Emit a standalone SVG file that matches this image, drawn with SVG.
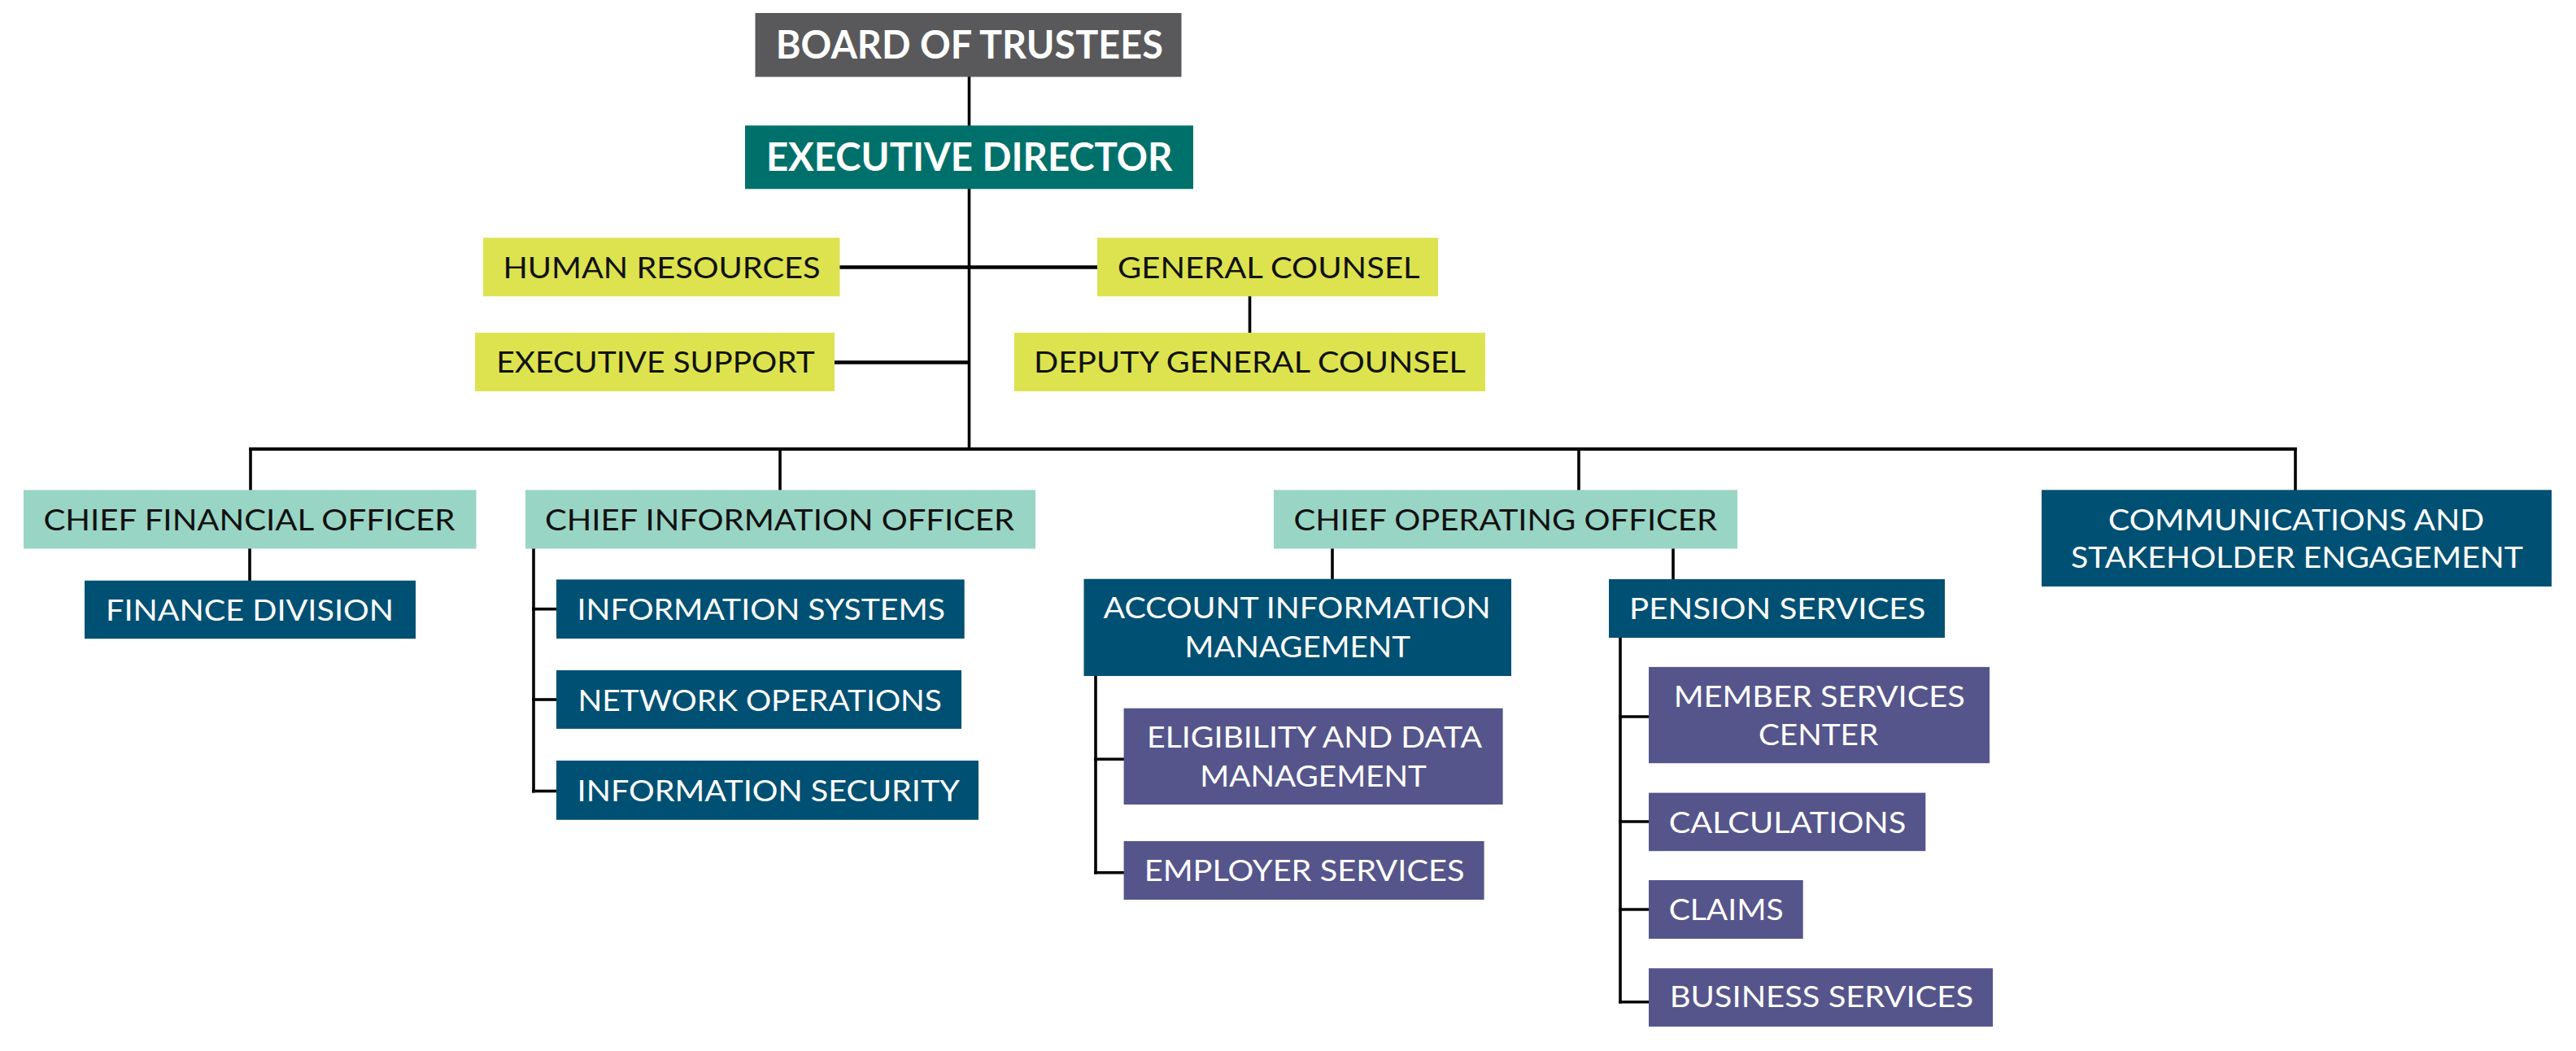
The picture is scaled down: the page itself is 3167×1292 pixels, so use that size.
<svg xmlns="http://www.w3.org/2000/svg" width="3167" height="1292" viewBox="0 0 3167 1292">
<style>
text{font-family:Lato,"Open Sans","Liberation Sans",sans-serif;font-size:37px;text-anchor:middle}
.t1{font-size:48px;font-weight:bold;fill:#fff}
.dk{fill:#fff}
.lt{fill:#111}
.board{fill:#59595b}
.exec{fill:#00706b}
.yel{fill:#dce34f}
.teal{fill:#99d5c4}
.blue{fill:#005073}
.purp{fill:#55558c}
.conn line{stroke:#000;stroke-width:3.6;stroke-linecap:butt}
</style>
<rect width="3167" height="1292" fill="#fff"/>
<g class="conn" id="connectors">
<line x1="1191.5" y1="94" x2="1191.5" y2="155"/>
<line x1="1191.5" y1="232" x2="1191.5" y2="554"/>
<line x1="1032" y1="328.5" x2="1349" y2="328.5" style="stroke-width:4.4"/>
<line x1="1026" y1="445.5" x2="1192" y2="445.5" style="stroke-width:4.4"/>
<line x1="1536.5" y1="364" x2="1536.5" y2="409.5"/>
<line x1="306.5" y1="552" x2="2823.5" y2="552" style="stroke-width:4"/>
<line x1="308" y1="550" x2="308" y2="603"/>
<line x1="959" y1="552" x2="959" y2="603"/>
<line x1="1941" y1="552" x2="1941" y2="603"/>
<line x1="2822" y1="550" x2="2822" y2="603"/>
<line x1="307" y1="674" x2="307" y2="714"/>
<line x1="656" y1="674" x2="656" y2="974.5"/>
<line x1="654" y1="748.7" x2="684" y2="748.7"/>
<line x1="654" y1="860" x2="684" y2="860"/>
<line x1="654" y1="972.5" x2="684" y2="972.5"/>
<line x1="1638" y1="674" x2="1638" y2="712"/>
<line x1="2057" y1="674" x2="2057" y2="712"/>
<line x1="1347" y1="831" x2="1347" y2="1074.5"/>
<line x1="1345" y1="933.3" x2="1382" y2="933.3"/>
<line x1="1345" y1="1072.7" x2="1382" y2="1072.7"/>
<line x1="1992" y1="784" x2="1992" y2="1233.6"/>
<line x1="1990" y1="881" x2="2027" y2="881"/>
<line x1="1990" y1="1010" x2="2027" y2="1010"/>
<line x1="1990" y1="1118" x2="2027" y2="1118"/>
<line x1="1990" y1="1231.8" x2="2027" y2="1231.8"/>
</g>
<g id="board"><rect class="board" x="928.5" y="16" width="524" height="78.5"/><text class="t1" x="1191.8" y="71.7" textLength="476" lengthAdjust="spacingAndGlyphs">BOARD OF TRUSTEES</text></g>
<g id="exec"><rect class="exec" x="916" y="154.3" width="551" height="78"/><text class="t1" x="1191.7" y="210" textLength="499.5" lengthAdjust="spacingAndGlyphs">EXECUTIVE DIRECTOR</text></g>
<g id="hr"><rect class="yel" x="594" y="292.3" width="438.5" height="72"/><text class="lt" x="813.5" y="341.7" textLength="390" lengthAdjust="spacingAndGlyphs">HUMAN RESOURCES</text></g>
<g id="gc"><rect class="yel" x="1349" y="292.3" width="419" height="72"/><text class="lt" x="1559.8" y="341.7" textLength="371.6" lengthAdjust="spacingAndGlyphs">GENERAL COUNSEL</text></g>
<g id="es"><rect class="yel" x="584" y="409" width="442" height="72"/><text class="lt" x="806" y="458.3" textLength="391.5" lengthAdjust="spacingAndGlyphs">EXECUTIVE SUPPORT</text></g>
<g id="dgc"><rect class="yel" x="1247" y="409" width="579" height="72"/><text class="lt" x="1536.5" y="458.3" textLength="531" lengthAdjust="spacingAndGlyphs">DEPUTY GENERAL COUNSEL</text></g>
<g id="cfo"><rect class="teal" x="29" y="602.3" width="556.5" height="72.2"/><text class="lt" x="306.5" y="651.7" textLength="506" lengthAdjust="spacingAndGlyphs">CHIEF FINANCIAL OFFICER</text></g>
<g id="cio"><rect class="teal" x="646" y="602.3" width="627" height="72.2"/><text class="lt" x="958.5" y="651.7" textLength="577" lengthAdjust="spacingAndGlyphs">CHIEF INFORMATION OFFICER</text></g>
<g id="coo"><rect class="teal" x="1566" y="602.3" width="570" height="72.2"/><text class="lt" x="1850.8" y="651.7" textLength="520.5" lengthAdjust="spacingAndGlyphs">CHIEF OPERATING OFFICER</text></g>
<g id="comms"><rect class="blue" x="2510" y="602.3" width="627" height="118.7"/><text class="dk" x="2823" y="651.7" textLength="462" lengthAdjust="spacingAndGlyphs">COMMUNICATIONS AND</text><text class="dk" x="2824" y="698" textLength="556" lengthAdjust="spacingAndGlyphs">STAKEHOLDER ENGAGEMENT</text></g>
<g id="finance"><rect class="blue" x="104" y="713.7" width="407" height="71.5"/><text class="dk" x="307" y="762.7" textLength="354" lengthAdjust="spacingAndGlyphs">FINANCE DIVISION</text></g>
<g id="infosys"><rect class="blue" x="684" y="712.4" width="501.7" height="72.6"/><text class="dk" x="935.8" y="761.8" textLength="452.4" lengthAdjust="spacingAndGlyphs">INFORMATION SYSTEMS</text></g>
<g id="netops"><rect class="blue" x="684" y="823.9" width="498" height="72"/><text class="dk" x="934.2" y="873.5" textLength="447.6" lengthAdjust="spacingAndGlyphs">NETWORK OPERATIONS</text></g>
<g id="infosec"><rect class="blue" x="684" y="935" width="519" height="72.8"/><text class="dk" x="944.8" y="985" textLength="470.4" lengthAdjust="spacingAndGlyphs">INFORMATION SECURITY</text></g>
<g id="aim"><rect class="blue" x="1332.5" y="711.7" width="525.5" height="119.3"/><text class="dk" x="1594.5" y="760" textLength="476" lengthAdjust="spacingAndGlyphs">ACCOUNT INFORMATION</text><text class="dk" x="1595.3" y="808.3" textLength="277.4" lengthAdjust="spacingAndGlyphs">MANAGEMENT</text></g>
<g id="pension"><rect class="blue" x="1978" y="712" width="413" height="72"/><text class="dk" x="2185.2" y="760.8" textLength="364.3" lengthAdjust="spacingAndGlyphs">PENSION SERVICES</text></g>
<g id="elig"><rect class="purp" x="1381.6" y="870.7" width="466" height="118.3"/><text class="dk" x="1616" y="919" textLength="412" lengthAdjust="spacingAndGlyphs">ELIGIBILITY AND DATA</text><text class="dk" x="1614.6" y="966.7" textLength="278.6" lengthAdjust="spacingAndGlyphs">MANAGEMENT</text></g>
<g id="employer"><rect class="purp" x="1381.6" y="1034" width="443" height="72"/><text class="dk" x="1603.6" y="1083" textLength="393.7" lengthAdjust="spacingAndGlyphs">EMPLOYER SERVICES</text></g>
<g id="member"><rect class="purp" x="2027" y="819.9" width="419" height="118.3"/><text class="dk" x="2236.7" y="869.4" textLength="358" lengthAdjust="spacingAndGlyphs">MEMBER SERVICES</text><text class="dk" x="2235.6" y="916" textLength="147.3" lengthAdjust="spacingAndGlyphs">CENTER</text></g>
<g id="calc"><rect class="purp" x="2027" y="974.6" width="340.3" height="71.6"/><text class="dk" x="2197.5" y="1023.8" textLength="291.6" lengthAdjust="spacingAndGlyphs">CALCULATIONS</text></g>
<g id="claims"><rect class="purp" x="2027" y="1082" width="189.7" height="72"/><text class="dk" x="2122.2" y="1131.3" textLength="141" lengthAdjust="spacingAndGlyphs">CLAIMS</text></g>
<g id="business"><rect class="purp" x="2027" y="1190.3" width="423" height="71.7"/><text class="dk" x="2239.4" y="1238" textLength="373.3" lengthAdjust="spacingAndGlyphs">BUSINESS SERVICES</text></g>
</svg>
